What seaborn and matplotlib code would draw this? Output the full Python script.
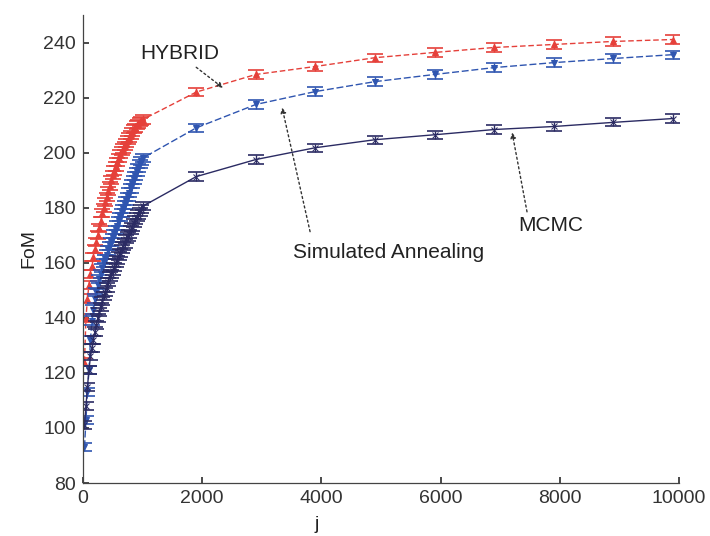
import numpy as np
import pandas as pd
import matplotlib
matplotlib.use("Agg")
import matplotlib.pyplot as plt
import seaborn as sns

# ---------------- data ----------------
j_dense = [25, 50, 75, 100, 125, 150, 175, 200, 225, 250, 275, 300, 325, 350, 375, 400,
           425, 450, 475, 500, 525, 550, 575, 600, 625, 650, 675, 700, 725, 750, 775, 800,
           825, 850, 875, 900, 925, 950, 975, 1000]
j_sparse = [1900, 2900, 3900, 4900, 5900, 6900, 7900, 8900, 9900]

hybrid_dense = [124, 140, 147, 152, 156, 159, 162, 165, 167.5, 170, 172.5, 175, 178, 180,
                182, 184, 186, 188, 190, 192, 193.5, 195, 196.5, 198, 199.5, 200.5, 201.5,
                202.5, 203.5, 204.5, 205.5, 206.5, 207.5, 208.5, 209, 210, 210.5, 211,
                211.5, 212]
hybrid_sparse = [222, 228.4, 231.3, 234.5, 236.4, 238.2, 239.3, 240.4, 241.1]

sa_dense = [93, 103, 113, 121, 132, 139, 143, 147, 149.5, 152, 154, 156, 158, 160, 161.5,
            163, 164.5, 166, 167.5, 169, 170.5, 172, 173.5, 175, 176.5, 178, 179.5, 181,
            182.5, 184, 185.5, 187, 188.5, 190, 191.5, 193, 194.5, 196, 197, 198]
sa_sparse = [209, 217.5, 222.2, 225.8, 228.4, 230.9, 232.7, 234.2, 235.6]

mcmc_dense = [101, 108, 115, 121, 126, 129, 132, 135, 137.5, 140, 142, 144, 146, 148,
              149.5, 151, 153, 155, 156, 157, 158.5, 160, 161, 162.5, 163.5, 165, 166, 167,
              168.5, 169.5, 170.5, 172, 173, 174.5, 175.5, 176.5, 177.5, 178.5, 179.5, 180.5]
mcmc_sparse = [191.3, 197.5, 201.8, 204.7, 206.5, 208.4, 209.5, 211, 212.4]

err_half = 1.5

x_ticks = [0, 2000, 4000, 6000, 8000, 10000]
y_ticks = [80, 100, 120, 140, 160, 180, 200, 220, 240]

# ---------------- style ----------------
sns.set_theme(style="white")
plt.rcParams['font.family'] = ['Liberation Sans', 'DejaVu Sans']

fig = plt.figure(figsize=(7.1, 5.36), dpi=100)
ax = fig.add_axes([83 / 710, 1 - 483 / 536, (679 - 83) / 710, (483 - 15) / 536])

series = [
    ("HYBRID", hybrid_dense, hybrid_sparse, "#e5403a", "^", (0, (4, 2))),
    ("Simulated Annealing", sa_dense, sa_sparse, "#2f55b0", "v", (0, (5, 2))),
    ("MCMC", mcmc_dense, mcmc_sparse, "#2b2b63", "x", "-"),
]

for name, dense, sparse, col, mk, ls in series:
    df = pd.DataFrame({"j": j_dense + j_sparse, "FoM": dense + sparse})
    sns.lineplot(data=df, x="j", y="FoM", ax=ax, color=col, marker=mk,
                 markersize=5, markeredgecolor=col, linewidth=1.0,
                 linestyle=ls, sort=True)
    ax.errorbar(df["j"], df["FoM"], yerr=err_half, fmt="none", ecolor=col,
                elinewidth=1.0, capsize=6, capthick=1.2)

ax.set_xlim(0, 10000)
ax.set_ylim(80, 250)
ax.set_xticks(x_ticks)
ax.set_yticks(y_ticks)
ax.set_xticklabels([str(t) for t in x_ticks])
ax.tick_params(direction="in", length=4, labelsize=14, colors="#333333",
               left=True, bottom=True, pad=5)
for s in ["top", "right"]:
    ax.spines[s].set_visible(False)
for s in ["left", "bottom"]:
    ax.spines[s].set_color("#444444")
    ax.spines[s].set_linewidth(0.9)

ax.set_xlabel("j", fontsize=14, color="#222222")
ax.xaxis.set_label_coords((317 - 83) / (679 - 83), -0.07)
ax.set_ylabel("FoM", fontsize=14, color="#222222", labelpad=4)

# ---------------- annotations ----------------
arrow = dict(arrowstyle="-|>", linestyle=(0, (1.5, 2)), color="#333333",
             lw=1.0, mutation_scale=8, shrinkA=0, shrinkB=0)
ax.annotate("", xy=(2350, 223.5), xytext=(1900, 231), arrowprops=arrow)
ax.text(1630, 236, "HYBRID", fontsize=15, ha="center", va="center", color="#222222")

ax.annotate("", xy=(3340, 216.4), xytext=(3810, 171.3), arrowprops=arrow)
ax.text(5120, 163.6, "Simulated Annealing", fontsize=15, ha="center", va="center",
        color="#222222")

ax.annotate("", xy=(7200, 207.3), xytext=(7450, 178.5), arrowprops=arrow)
ax.text(7850, 173.5, "MCMC", fontsize=15, ha="center", va="center", color="#222222")

fig.savefig("out.png", dpi=100)
